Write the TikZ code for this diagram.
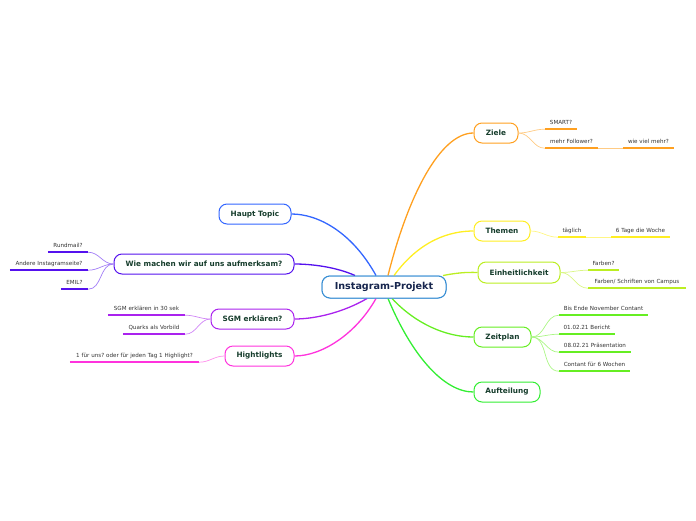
\documentclass[tikz,border=0pt]{standalone}
\usepackage{fontspec}
\setmainfont{DejaVu Sans}
\frenchspacing
\usetikzlibrary{calc}
\definecolor{cblue}{HTML}{3A8FD4}
\definecolor{chaupt}{HTML}{3366FF}
\definecolor{cwie}{HTML}{5511EE}
\definecolor{csgm}{HTML}{AA22EE}
\definecolor{chl}{HTML}{FF33DD}
\definecolor{cziele}{HTML}{FFA020}
\definecolor{cthemen}{HTML}{FFEE22}
\definecolor{cein}{HTML}{BBEE22}
\definecolor{czeit}{HTML}{66EE22}
\definecolor{cauf}{HTML}{33EE33}
\definecolor{maintext}{HTML}{163D2C}
\definecolor{centertext}{HTML}{16254D}
\definecolor{subtext}{HTML}{333333}
\tikzset{
  mainbox/.style={draw=#1, line width=1pt, rounded corners=8pt, fill=white, inner sep=0pt,
    minimum height=20pt, text=maintext, font=\bfseries\fontsize{7.3}{8.5}\selectfont},
  centerbox/.style={draw=cblue, line width=1pt, rounded corners=8pt, fill=white, inner sep=0pt,
    minimum width=124pt, minimum height=22pt, text=centertext, font=\bfseries\fontsize{9.6}{11}\selectfont},
  subnode/.style={inner xsep=0pt, inner ysep=0pt, minimum height=13pt, text width=#1, align=center,
    text=subtext, font=\fontsize{5.6}{6.5}\selectfont},
  ul/.style={draw=#1, line width=1.5pt},
  branch/.style={draw=#1, line width=1.3pt},
  twig/.style={draw=#1!55, line width=0.7pt},
}
\begin{document}
\begin{tikzpicture}[x=1pt,y=-1pt]
\useasboundingbox (0,0) rectangle (696,520);

% central node and main topics
\node[centerbox] (c) at (384,287) {Instagram-Projekt};

\node[mainbox=chaupt, minimum width=72pt] (hp) at (255,214) {Haupt Topic};
\node[mainbox=cwie, minimum width=180pt] (wie) at (204,264) {Wie machen wir auf uns aufmerksam?};
\node[mainbox=csgm, minimum width=83pt] (sgm) at (252.5,319) {SGM erklären?};
\node[mainbox=chl, minimum width=69pt] (hl) at (259.5,356) {Hightlights};
\node[mainbox=cziele, minimum width=44pt] (ziele) at (496,133) {Ziele};
\node[mainbox=cthemen, minimum width=56pt] (themen) at (502,231) {Themen};
\node[mainbox=cein, minimum width=82pt, minimum height=21pt] (ein) at (519,272.5) {Einheitlichkeit};
\node[mainbox=czeit, minimum width=57pt] (zeit) at (502.5,337) {Zeitplan};
\node[mainbox=cauf, minimum width=66pt] (auf) at (507,392) {Aufteilung};

% start points on the central node
\coordinate (sHaupt) at ($(c.north)+(-8,0)$);
\coordinate (sWie) at ($(c.north)+(-29,0)$);
\coordinate (sZiele) at ($(c.north)+(4,0)$);
\coordinate (sThemen) at ($(c.north)+(10,0)$);
\coordinate (sEin) at ($(c.north)+(59,0)$);
\coordinate (sZeit) at ($(c.south)+(8,0)$);
\coordinate (sAuf) at ($(c.south)+(4,0)$);
\coordinate (sSgm) at ($(c.south)+(-17,0)$);
\coordinate (sHl) at ($(c.south)+(-8,0)$);

\draw[branch=chaupt] (sHaupt) .. controls (352,232) and (318,214) .. (hp.east);
\draw[branch=cwie] (sWie) .. controls (336,267) and (312,264) .. (wie.east);
\draw[branch=cziele] (sZiele) .. controls (408,196) and (440,133) .. (ziele.west);
\draw[branch=cthemen] (sThemen) .. controls (420,240) and (450,231) .. (themen.west);
\draw[branch=cein] (sEin) .. controls (456,273) and (466,272) .. (ein.west);
\draw[branch=czeit] (sZeit) .. controls (416,324) and (446,337) .. (zeit.west);
\draw[branch=cauf] (sAuf) .. controls (412,356) and (444,392) .. (auf.west);
\draw[branch=csgm] (sSgm) .. controls (344,312) and (316,319) .. (sgm.east);
\draw[branch=chl] (sHl) .. controls (356,334) and (322,356) .. (hl.east);

% redraw centre box on top of connector ends
\node[centerbox] at (c) {Instagram-Projekt};

% ---- Ziele
\node[subnode=32pt] (z1) at (561,122.5) {SMART?};
\node[subnode=53pt] (z2) at (571.5,141.5) {mehr Follower?};
\node[subnode=51pt] (z3) at (648.5,141.5) {wie viel mehr?};
\draw[ul=cziele] (z1.south west) -- (z1.south east);
\draw[ul=cziele] (z2.south west) -- (z2.south east);
\draw[ul=cziele] (z3.south west) -- (z3.south east);
\draw[twig=cziele] (ziele.east) to[out=0,in=180] (z1.south west);
\draw[twig=cziele] (ziele.east) to[out=0,in=180] (z2.south west);
\draw[twig=cziele] (z2.south east) -- (z3.south west);

% ---- Themen
\node[subnode=28pt] (t1) at (572,230.5) {täglich};
\node[subnode=59pt] (t2) at (640.5,230.5) {6 Tage die Woche};
\draw[ul=cthemen] (t1.south west) -- (t1.south east);
\draw[ul=cthemen] (t2.south west) -- (t2.south east);
\draw[twig=cthemen] (themen.east) to[out=0,in=180] (t1.south west);
\draw[twig=cthemen] (t1.south east) -- (t2.south west);

% ---- Einheitlichkeit
\node[subnode=31pt] (e1) at (603.5,263.5) {Farben?};
\node[subnode=98pt] (e2) at (637,281.5) {Farben/ Schriften von Campus};
\draw[ul=cein] (e1.south west) -- (e1.south east);
\draw[ul=cein] (e2.south west) -- (e2.south east);
\draw[twig=cein] (ein.east) to[out=0,in=180] (e1.south west);
\draw[twig=cein] (ein.east) to[out=0,in=180] (e2.south west);

% ---- Zeitplan
\node[subnode=89pt] (p1) at (603.5,308.5) {Bis Ende November Contant};
\node[subnode=56pt] (p2) at (587,327.5) {01.02.21 Bericht};
\node[subnode=72pt] (p3) at (595,345.5) {08.02.21 Präsentation};
\node[subnode=71pt] (p4) at (594.5,364.5) {Contant für 6 Wochen};
\foreach \n in {p1,p2,p3,p4}{
  \draw[ul=czeit] (\n.south west) -- (\n.south east);
  \draw[twig=czeit] (zeit.east) to[out=0,in=180] (\n.south west);
}

% ---- Wie machen wir ...
\node[subnode=40pt] (w1) at (68,245.5) {Rundmail?};
\node[subnode=78pt] (w2) at (49,263.5) {Andere Instagramseite?};
\node[subnode=27pt] (w3) at (74.5,282.5) {EMIL?};
\foreach \n in {w1,w2,w3}{
  \draw[ul=cwie] (\n.south west) -- (\n.south east);
  \draw[twig=cwie] (wie.west) to[out=180,in=0] (\n.south east);
}

% ---- SGM
\node[subnode=77pt] (g1) at (146.5,308.5) {SGM erklären in 30 sek};
\node[subnode=62pt] (g2) at (154,327.5) {Quarks als Vorbild};
\foreach \n in {g1,g2}{
  \draw[ul=csgm] (\n.south west) -- (\n.south east);
  \draw[twig=csgm] (sgm.west) to[out=180,in=0] (\n.south east);
}

% ---- Hightlights
\node[subnode=129pt] (h1) at (134.5,355.5) {1 für uns? oder für jeden Tag 1 Highlight?};
\draw[ul=chl] (h1.south west) -- (h1.south east);
\draw[twig=chl] (hl.west) to[out=180,in=0] (h1.south east);

\end{tikzpicture}
\end{document}
